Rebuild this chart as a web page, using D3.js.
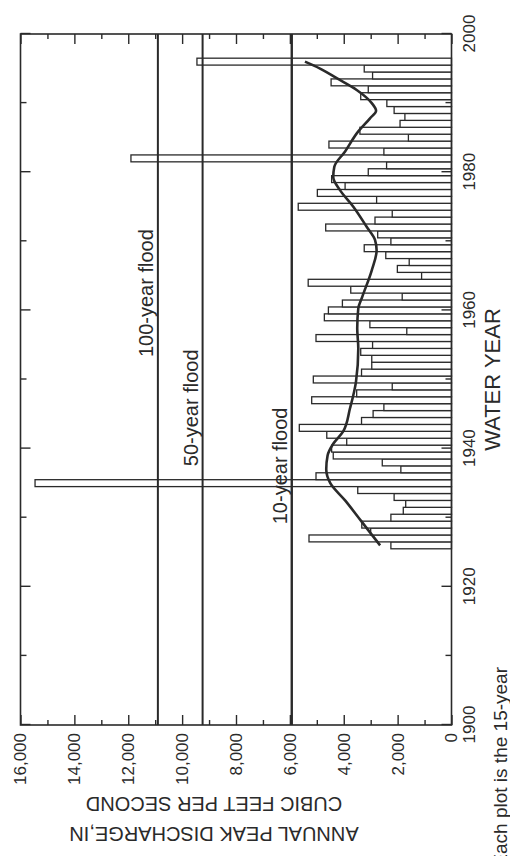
<!DOCTYPE html>
<html><head><meta charset="utf-8">
<script src="https://cdn.jsdelivr.net/npm/d3@7"></script>
<style>body{margin:0;background:#fff} svg{display:block}</style>
</head><body><svg id="c" width="510" height="856"></svg>
<script>
// ---- data ----
const years = d3.range(1926, 1997);
const peaks = [
  2250, 5290, 3000, 3330, 2250, 1790, 1700, 2130, 3480, 15460, // 1926-1935
  5030, 1880, 2570, 4390, 4450, 3890, 4630, 5650, 3340, 2910,  // 1936-1945
  2510, 5190, 3520, 2200, 5130, 3340, 2960, 2960, 3370, 2930,  // 1946-1955
  5030, 1660, 3030, 4720, 4570, 4050, 1830, 3740, 5320, 1110,  // 1956-1965
  2010, 1570, 2440, 3240, 2250, 2740, 4670, 2840, 2200, 5690,  // 1966-1975
  2780, 4980, 3950, 4450, 3090, 2410, 11900, 2510, 4550, 1600, // 1976-1985
  3400, 1910, 1730, 2130, 2400, 3370, 3090, 4470, 2930, 3240,  // 1986-1995
  9450                                                         // 1996
];
const smoothYears  = [1926.0,1929.5,1932.5,1935.0,1937.0,1939.0,1940.7,1942.5,1945.8,1949.7,1954.5,1957.4,1960.3,1962.0,1965.8,1968.7,1970.2,1972.1,1975.0,1977.4,1979.3,1980.8,1983.0,1985.9,1987.8,1988.9,1990.0,1991.9,1993.6,1995.0,1996.0];
const smoothValues = [2650,3350,3950,4500,4650,4600,4390,4020,3770,3545,3460,3500,3460,3310,2960,2780,2840,3150,3645,4140,4390,4350,3950,3460,3025,2800,2960,3520,4260,4880,5440];
const floodLabels = ["100-year flood", "50-year flood", "10-year flood"];
const floodValues = [10900, 9240, 5930];
const floodLabelYears = [1962.5, 1945.9, 1937.5];
const yearTicks = [1900, 1920, 1940, 1960, 1980, 2000];
const yearMinorTicks = [1910, 1930, 1950, 1970, 1990];
const valueTicks = [0, 2000, 4000, 6000, 8000, 10000, 12000, 14000, 16000];
const valueMinorTicks = [1000, 3000, 5000, 7000, 9000, 11000, 13000, 15000];
const xTitle = "WATER YEAR";
const yTitle = ["ANNUAL PEAK DISCHARGE,IN", "CUBIC FEET PER SECOND"];
const caption = "Each plot is the 15-year";

// ---- drawing (landscape chart, rotated a quarter turn counter-clockwise) ----
const FONT = "'Liberation Sans', Arial, Helvetica, sans-serif";
const svg = d3.select("#c");
svg.append("rect").attr("width", 510).attr("height", 856).attr("fill", "#fff");
const g = svg.append("g").attr("transform", "matrix(0,-1,1,0,0,856)");

const x = d3.scaleLinear().domain([1900, 2000]).range([131, 822]);
const y = d3.scaleLinear().domain([0, 16000]).range([451.5, 20.5]);
const ink = "#2a2a2a";

// bars
g.append("g").selectAll("rect").data(years).join("rect")
  .attr("x", d => x(d - 0.5)).attr("width", d => x(d + 0.5) - x(d - 0.5))
  .attr("y", (d, i) => y(peaks[i])).attr("height", (d, i) => y(0) - y(peaks[i]))
  .attr("fill", "#fff").attr("stroke", ink).attr("stroke-width", 1.3);

// flood lines
g.append("g").selectAll("line").data(floodValues).join("line")
  .attr("x1", x(1900)).attr("x2", x(2000))
  .attr("y1", d => y(d)).attr("y2", d => y(d))
  .attr("stroke", ink).attr("stroke-width", (d, i) => i === 2 ? 2.4 : 2);

g.append("g").selectAll("text").data(floodLabels).join("text")
  .attr("x", (d, i) => x(floodLabelYears[i]))
  .attr("y", (d, i) => y(floodValues[i]) - 5)
  .attr("text-anchor", "middle")
  .attr("font-family", FONT).attr("font-size", 20).attr("fill", ink)
  .text(d => d);

// smoothed line
const line = d3.line().x((d, i) => x(d)).y((d, i) => y(smoothValues[i])).curve(d3.curveMonotoneX);
g.append("path").attr("d", line(smoothYears))
  .attr("fill", "none").attr("stroke", ink).attr("stroke-width", 2.6);

// axes
function styleAxis(sel, labels) {
  sel.select(".domain").remove();
  sel.selectAll(".tick line").attr("stroke", ink).attr("stroke-width", 1.4);
  sel.selectAll(".tick text").attr("fill", ink).attr("font-family", FONT).attr("font-size", 17);
  if (!labels) sel.selectAll(".tick text").remove();
}
const yb = g.append("g").attr("transform", `translate(0,${y(0)})`)
  .call(d3.axisBottom(x).tickValues(yearTicks).tickFormat(d3.format("d")).tickSizeInner(-10).tickSizeOuter(0).tickPadding(11));
styleAxis(yb, true);
styleAxis(g.append("g").attr("transform", `translate(0,${y(0)})`)
  .call(d3.axisBottom(x).tickValues(yearMinorTicks).tickSizeInner(-6).tickSizeOuter(0)), false);
styleAxis(g.append("g").attr("transform", `translate(0,${y(16000)})`)
  .call(d3.axisTop(x).tickValues(yearTicks).tickSizeInner(-10).tickSizeOuter(0)), false);
styleAxis(g.append("g").attr("transform", `translate(0,${y(16000)})`)
  .call(d3.axisTop(x).tickValues(yearMinorTicks).tickSizeInner(-6).tickSizeOuter(0)), false);

const va = g.append("g").attr("transform", `translate(${x(1900)},0)`)
  .call(d3.axisLeft(y).tickValues(valueTicks).tickFormat(d3.format(",")).tickSizeInner(-10).tickSizeOuter(0).tickPadding(8));
styleAxis(va, true);
styleAxis(g.append("g").attr("transform", `translate(${x(1900)},0)`)
  .call(d3.axisLeft(y).tickValues(valueMinorTicks).tickSizeInner(-5).tickSizeOuter(0)), false);
styleAxis(g.append("g").attr("transform", `translate(${x(2000)},0)`)
  .call(d3.axisRight(y).tickValues(valueTicks).tickSizeInner(-10).tickSizeOuter(0)), false);
styleAxis(g.append("g").attr("transform", `translate(${x(2000)},0)`)
  .call(d3.axisRight(y).tickValues(valueMinorTicks).tickSizeInner(-5).tickSizeOuter(0)), false);

// frame
g.append("rect").attr("x", x(1900)).attr("y", y(16000))
  .attr("width", x(2000) - x(1900)).attr("height", y(0) - y(16000))
  .attr("fill", "none").attr("stroke", ink).attr("stroke-width", 1.6);

// titles
g.append("text").attr("x", (x(1900) + x(2000)) / 2).attr("y", 500)
  .attr("text-anchor", "middle").attr("font-family", FONT).attr("font-size", 22).attr("fill", ink)
  .text(xTitle);
g.append("g").selectAll("text").data(yTitle).join("text")
  .attr("transform", (d, i) => `translate(${i === 0 ? 29 : 59},214) rotate(-90)`)
  .attr("text-anchor", "middle").attr("font-family", FONT).attr("font-size", 20).attr("fill", ink)
  .text(d => d);

// caption (cut by the page edge, as in the reference)
g.append("text").attr("x", 189).attr("y", 507)
  .attr("text-anchor", "end").attr("font-family", FONT).attr("font-size", 19).attr("fill", ink)
  .text(caption);
</script></body></html>
